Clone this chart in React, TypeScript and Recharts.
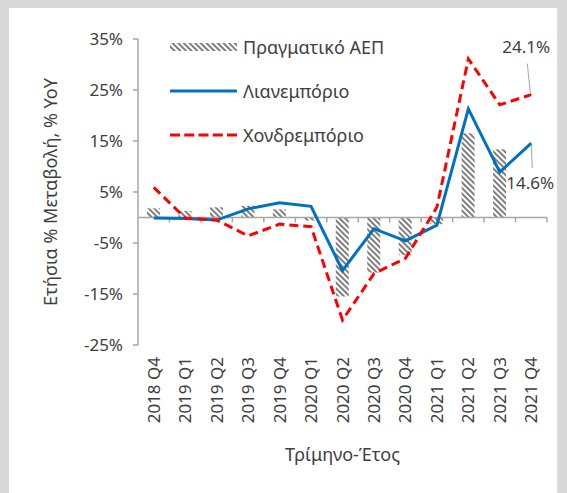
import React from "react";
import {
  ComposedChart,
  Bar,
  Line,
  XAxis,
  YAxis,
  Legend,
  ReferenceLine,
  LabelList,
} from "recharts";

const quarters = [
  "2018 Q4", "2019 Q1", "2019 Q2", "2019 Q3", "2019 Q4", "2020 Q1", "2020 Q2",
  "2020 Q3", "2020 Q4", "2021 Q1", "2021 Q2", "2021 Q3", "2021 Q4",
];
const gdp = [1.8, 1.3, 2.0, 2.3, 1.6, -0.6, -15.5, -10.8, -7.4, -1.3, 16.5, 13.4, null];
const retail = [-0.1, -0.2, -0.5, 1.7, 2.9, 2.2, -10.4, -2.2, -4.6, -1.5, 21.3, 8.9, 14.6];
const wholesale = [5.9, -0.1, -0.5, -3.6, -1.3, -1.8, -20.1, -11.0, -8.0, 2.0, 31.1, 22.1, 24.1];
const yTicks = [-25, -15, -5, 5, 15, 25, 35];

const names = {
  gdp: "Πραγματικό ΑΕΠ",
  retail: "Λιανεμπόριο",
  wholesale: "Χονδρεμπόριο",
};

const data = quarters.map((q, i) => ({
  q,
  gdp: gdp[i],
  retail: retail[i],
  wholesale: wholesale[i],
}));

const FONT = "'Noto Sans', 'Open Sans', sans-serif";
const TXT = "#404040";
const AXIS = "#a6a6a6";
const BLUE = "#0070c0";
const RED = "#ff0000";
const last = quarters.length - 1;

const Hatch = ({ id }: { id: string }) => (
  <pattern id={id} patternUnits="userSpaceOnUse" width="4" height="4" patternTransform="rotate(-45)">
    <rect width="4" height="4" fill="#ffffff" />
    <rect width="2" height="4" fill="#7f7f7f" />
  </pattern>
);

const XTick = (props: any) => {
  const { x, y, payload } = props;
  return (
    <text
      transform={`translate(${x + 6},${y + 4}) rotate(-90)`}
      textAnchor="end"
      fontSize={17}
      fill={TXT}
      fontFamily={FONT}
    >
      {payload.value}
    </text>
  );
};

// zero line with category tick marks, as Excel draws the axis crossing at 0
const ZeroAxis = (props: any) => {
  const { x1, y1, x2 } = props;
  const step = (x2 - x1) / quarters.length;
  return (
    <g>
      <line x1={x1} y1={y1} x2={x2} y2={y1} stroke={AXIS} strokeWidth={1.5} />
      {quarters.map((_, i) => (
        <line key={i} x1={x1 + step * (i + 1)} y1={y1} x2={x1 + step * (i + 1)} y2={y1 + 5} stroke={AXIS} strokeWidth={1.5} />
      ))}
    </g>
  );
};

const redLabel = (props: any) => {
  const { x, y, index, value } = props;
  if (index !== last) return null;
  return (
    <g>
      <line x1={x - 1} y1={y - 2} x2={x - 4} y2={y - 31} stroke={AXIS} strokeWidth={1} />
      <text x={x - 5} y={y - 42} textAnchor="middle" fontSize={17} fill={TXT} fontFamily={FONT}>
        {`${value}%`}
      </text>
    </g>
  );
};

const blueLabel = (props: any) => {
  const { x, y, index, value } = props;
  if (index !== last) return null;
  return (
    <g>
      <line x1={x} y1={y + 2} x2={x + 1} y2={y + 25} stroke={AXIS} strokeWidth={1} />
      <text x={x - 1} y={y + 46} textAnchor="middle" fontSize={17} fill={TXT} fontFamily={FONT}>
        {`${value}%`}
      </text>
    </g>
  );
};

const LegendBox = () => {
  const row = { display: "flex", alignItems: "center", height: 24, marginBottom: 20 } as const;
  const label = { marginLeft: 6, fontSize: 18, color: TXT, fontFamily: FONT, whiteSpace: "nowrap" } as const;
  return (
    <div>
      <div style={row}>
        <svg width={67} height={10}>
          <defs>
            <Hatch id="hatchLegend" />
          </defs>
          <rect x={0} y={1} width={67} height={8} fill="url(#hatchLegend)" />
        </svg>
        <span style={label}>{names.gdp}</span>
      </div>
      <div style={row}>
        <svg width={67} height={10}>
          <line x1={1} y1={5} x2={66} y2={5} stroke={BLUE} strokeWidth={3} strokeLinecap="round" />
        </svg>
        <span style={label}>{names.retail}</span>
      </div>
      <div style={row}>
        <svg width={67} height={10}>
          <line x1={0} y1={5} x2={67} y2={5} stroke={RED} strokeWidth={3} strokeDasharray="10 4.25" />
        </svg>
        <span style={label}>{names.wholesale}</span>
      </div>
    </div>
  );
};

export default function App() {
  return (
    <div style={{ position: "absolute", left: 0, top: 0, width: 567, height: 493, background: "#d9d9d9" }}>
      <div style={{ position: "absolute", left: 9, top: 8, width: 548, height: 485, background: "#ffffff" }}>
        <ComposedChart
          width={548}
          height={485}
          data={data}
          margin={{ top: 31, right: 10, bottom: 0, left: 0 }}
          barCategoryGap="58%"
        >
          <defs>
            <Hatch id="hatchBar" />
          </defs>
          <XAxis
            dataKey="q"
            interval={0}
            axisLine={false}
            tickLine={false}
            height={148}
            tick={<XTick />}
            label={{
              value: "Τρίμηνο-Έτος",
              position: "insideBottom",
              offset: 32,
              fontSize: 18,
              fill: TXT,
              fontFamily: FONT,
            }}
          />
          <YAxis
            width={129}
            domain={[-25, 35]}
            ticks={yTicks}
            interval={0}
            allowDataOverflow
            tickFormatter={(v) => `${v}%`}
            tick={{ fontSize: 17, fill: TXT, fontFamily: FONT }}
            axisLine={{ stroke: AXIS, strokeWidth: 1.5 }}
            tickLine={{ stroke: AXIS, strokeWidth: 1.5 }}
            tickSize={5}
            tickMargin={10}
            label={{
              value: "Ετήσια % Μεταβολή, % YoY",
              angle: -90,
              position: "insideLeft",
              offset: 42,
              textAnchor: "middle",
              fontSize: 18,
              fill: TXT,
              fontFamily: FONT,
            }}
          />
          <Legend
            layout="vertical"
            align="center"
            verticalAlign="middle"
            content={<LegendBox />}
            wrapperStyle={{ position: "absolute", left: 161, top: 27, width: "auto" }}
          />
          <ReferenceLine y={0} stroke={AXIS} shape={(p: any) => <ZeroAxis {...p} />} />
          <Bar dataKey="gdp" name={names.gdp} fill="url(#hatchBar)" barSize={13} isAnimationActive={false} />
          <Line
            type="linear"
            dataKey="retail"
            name={names.retail}
            stroke={BLUE}
            strokeWidth={3}
            dot={false}
            isAnimationActive={false}
          >
            <LabelList dataKey="retail" content={blueLabel} />
          </Line>
          <Line
            type="linear"
            dataKey="wholesale"
            name={names.wholesale}
            stroke={RED}
            strokeWidth={3}
            strokeDasharray="9 5"
            dot={false}
            isAnimationActive={false}
          >
            <LabelList dataKey="wholesale" content={redLabel} />
          </Line>
        </ComposedChart>
      </div>
    </div>
  );
}
